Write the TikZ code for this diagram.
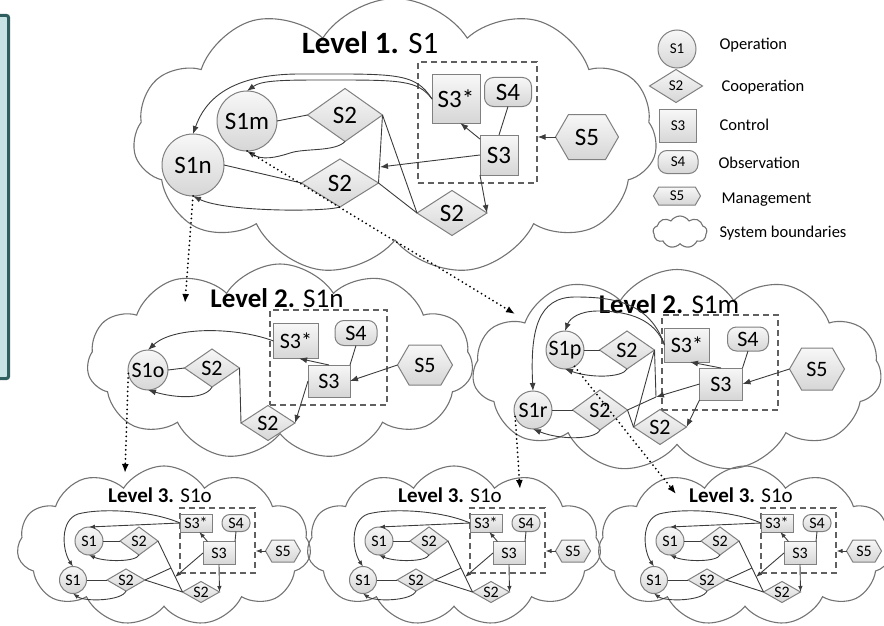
\documentclass[tikz,border=0pt]{standalone}
\usepackage{fontspec}
\setmainfont{Carlito}
\usetikzlibrary{shapes.geometric,shapes.symbols,shapes.misc,arrows.meta,calc}

\definecolor{nodeln}{RGB}{128,128,128}
\definecolor{connc}{RGB}{60,60,60}
\definecolor{cloudln}{RGB}{115,115,115}
\definecolor{panelfill}{RGB}{200,227,227}
\definecolor{panelln}{RGB}{47,94,94}

\newcommand{\fsz}[1]{\fontsize{#1}{#1}\selectfont}

\tikzset{
 base/.style={draw=nodeln, line width=1pt, top color=white!97!black, bottom color=white!84!black, inner sep=0pt, outer sep=0pt, text=black},
 opn/.style={base, circle},
 coop/.style={base, diamond, shape aspect=1.6},
 ctrl/.style={base, rectangle},
 obs/.style={base, rectangle, rounded corners=#1},
 mgmt/.style={base, signal, signal to=east and west, signal pointer angle=120},
 dashbox/.style={draw=gray!75!black, dash pattern=on 6pt off 4pt, line width=1.2pt, inner sep=0pt, fill=none},
 cloudy/.style={draw=cloudln, line width=1.1pt, cloud, cloud puffs=11, cloud puff arc=115, inner sep=0pt, aspect=2},
 conn/.style={draw=connc, line width=0.9pt},
 arr/.style={conn, -{Latex[length=8pt,width=6pt]}},
 arrs/.style={conn, -{Latex[length=6pt,width=4.5pt]}},
 dotarr/.style={draw=black, line width=2pt, dash pattern=on 0pt off 4.5pt, line cap=round, -{Latex[length=9pt,width=7pt]}},
 Lone/.style={font=\fsz{25}},
 Ltwo/.style={font=\fsz{22}},
 Lthree/.style={font=\fsz{16}},
}

\begin{document}
\begin{tikzpicture}[x=1pt,y=-1pt]
\useasboundingbox (0,0) rectangle (884,626);
\clip (0,0) rectangle (884,626);

% side panel
\draw[line width=3pt, draw=panelln, fill=panelfill, rounded corners=2pt] (-20,15.5) rectangle (8.5,378.5);

% ---------------- Level 1 ----------------
\node[cloudy, minimum width=524pt, minimum height=277pt] (C1) at (395,137) {};
\node[font=\fsz{31}] (T1) at (370,43) {\textbf{Level 1.} S1};
\node[opn, Lone, minimum size=60pt] (S1m) at (247,121) {S1m};
\node[opn, Lone, minimum size=62pt] (S1n) at (193,165) {S1n};
\node[coop, Lone, minimum width=75pt, minimum height=53pt] (A2a) at (345,115) {S2};
\node[coop, Lone, minimum width=77pt, minimum height=48pt] (A2b) at (340,183) {S2};
\node[coop, Lone, minimum width=70pt, minimum height=45pt] (A2c) at (452,213) {S2};
\node[dashbox, minimum width=119pt, minimum height=121pt] (AD) at (477.5,122.5) {};
\node[ctrl, Lone, minimum width=48pt, minimum height=48pt] (A3s) at (456,99) {S3*};
\node[obs=9pt, Lone, minimum width=47pt, minimum height=29pt] (A4) at (508,92) {S4};
\node[ctrl, Lone, minimum width=38pt, minimum height=40pt] (A3) at (499,155) {S3};
\node[mgmt, Lone, minimum width=63pt, minimum height=45pt] (A5) at (587,137) {S5};
\coordinate (Aco) at (380,167);

\draw[conn] (S1m.east) -- (A2a.west);
\draw[arr] (A2a.south) .. controls (335,152) and (305,148) .. (290,153) .. controls (275,158) and (262,160) .. (S1m.south);
\draw[arr] (A3s.west) .. controls (418,80) and (400,80) .. (330,80) .. controls (285,80) and (262,80) .. (S1m.north);
\draw[arr] (A3s.west) .. controls (415,72) and (395,74) .. (300,74) .. controls (230,74) and (205,100) .. (S1n.north);
\draw[conn] (S1n.east) -- (A2b.west);
\draw[arr] (A2b.south) .. controls (325,212) and (225,212) .. (S1n.south);
\draw[conn] (A2a.east) -- (A2b.east);
\draw[conn] (A2a.east) -- (A2c.west);
\draw[conn] (A2b.east) -- (A2c.west);
\draw[arr] (A3.west) -- (Aco);
\draw[arr] (A3.140) -- (A3s.-80);
\draw[conn] (A4.south) -- (A3.north);
\draw[arr] (A3.south west) -- (A2c.east);
\draw[arr] (A5.west) -- (A5.west -| AD.east);

% ---------------- Level 2 left ----------------
\node[cloudy, minimum width=386pt, minimum height=196pt] (C2) at (280,362) {};
\node[font=\fsz{27}] (T2a) at (277,298) {\textbf{Level 2.} S1n};
\node[opn, Ltwo, minimum size=40pt] (S1o) at (148,370) {S1o};
\node[coop, Ltwo, minimum width=55pt, minimum height=38pt] (B2a) at (212,368) {S2};
\node[coop, Ltwo, minimum width=54pt, minimum height=35pt] (B2b) at (268,423) {S2};
\node[dashbox, minimum width=117pt, minimum height=95pt] (BD) at (328.5,357.5) {};
\node[ctrl, Ltwo, minimum width=45pt, minimum height=35pt] (B3s) at (296,341) {S3*};
\node[obs=9pt, Ltwo, minimum width=42pt, minimum height=25pt] (B4) at (356,333) {S4};
\node[ctrl, Ltwo, minimum width=42pt, minimum height=32pt] (B3) at (329,381) {S3};
\node[mgmt, Ltwo, minimum width=55pt, minimum height=40pt] (B5) at (425,365) {S5};

\draw[arr] (B3s.west) .. controls (240,328) and (175,325) .. (S1o.north);
\draw[conn] (S1o.east) -- (B2a.west);
\draw[arr] (B2a.south) .. controls (205,400) and (175,398) .. (S1o.south);
\draw[conn] (B2a.east) -- (B2b.west);
\draw[arr] (B3.north) -- (B3s.-80);
\draw[conn] (B4.south) -- (B3.north east);
\draw[arr] (B3.west) -- (B2b.east);
\draw[arr] (B5.west) -- (B3.east);

% ---------------- Level 2 right ----------------
\node[cloudy, minimum width=409pt, minimum height=203pt] (C3) at (677,371) {};
\node[font=\fsz{27}] (T2b) at (669,304) {\textbf{Level 2.} S1m};
\node[opn, Ltwo, minimum size=38pt] (S1p) at (565,350) {S1p};
\node[coop, Ltwo, minimum width=55pt, minimum height=38pt] (C2a) at (627,350) {S2};
\node[opn, Ltwo, minimum size=38pt] (S1r) at (533,410) {S1r};
\node[coop, Ltwo, minimum width=55pt, minimum height=40pt] (C2b) at (600,410) {S2};
\node[coop, Ltwo, minimum width=53pt, minimum height=35pt] (C2c) at (660,427) {S2};
\node[dashbox, minimum width=116pt, minimum height=95pt] (CD) at (720,362.5) {};
\node[ctrl, Ltwo, minimum width=45pt, minimum height=34pt] (C3s) at (687,345) {S3*};
\node[obs=9pt, Ltwo, minimum width=41pt, minimum height=24pt] (C4) at (748,339) {S4};
\node[ctrl, Ltwo, minimum width=43pt, minimum height=32pt] (C3x) at (721,384) {S3};
\node[mgmt, Ltwo, minimum width=55pt, minimum height=42pt] (C5) at (817,369) {S5};
\coordinate (Cco) at (656,397);

\draw[conn] (S1p.east) -- (C2a.west);
\draw[arr] (C2a.south) .. controls (622,378) and (590,378) .. (S1p.south);
\draw[arr] (C3s.west) .. controls (655,320) and (630,311) .. (598,311) .. controls (580,311) and (570,318) .. (S1p.north);
\draw[arr] (C3s.west) .. controls (650,303) and (615,297) .. (575,297) .. controls (538,297) and (530,330) .. (S1r.north);
\draw[conn] (S1r.east) -- (C2b.west);
\draw[arr] (C2b.south) .. controls (595,440) and (560,440) .. (S1r.south);
\draw[conn] (C2a.east) -- (Cco);
\draw[conn] (C2a.east) -- (C2c.west);
\draw[conn] (C2b.east) -- (C2c.west);
\draw[conn] (C2b.east) -- (Cco);
\draw[arr] (C3x.west) -- (Cco);
\draw[arr] (C3x.north) -- (C3s.-80);
\draw[conn] (C4.south) -- (C3x.north east);
\draw[arr] (C3x.south west) -- (C2c.east);
\draw[arr] (C5.west) -- (C3x.east);

% ---------------- Level 3 (three copies) ----------------
\foreach \dx/\q in {0/a,290/b,581/c} {
\begin{scope}[shift={(\dx,0)}]
\node[cloudy, minimum width=294pt, minimum height=160pt] (Cl\q) at (164,546) {};
\node[font=\fsz{21}] (T3\q) at (160,495) {\textbf{Level 3.} S1o};
\node[opn, Lthree, minimum size=28pt] (U\q) at (89,541) {S1};
\node[coop, Lthree, minimum width=38pt, minimum height=28pt] (V\q) at (139,541) {S2};
\node[opn, Lthree, minimum size=27pt] (W\q) at (73,580) {S1};
\node[coop, Lthree, minimum width=38pt, minimum height=22pt] (X\q) at (126,580) {S2};
\node[coop, Lthree, minimum width=37pt, minimum height=21pt] (Y\q) at (201,592) {S2};
\node[dashbox, minimum width=75pt, minimum height=65pt] (D\q) at (217.5,540.5) {};
\node[ctrl, Lthree, minimum width=32pt, minimum height=18pt] (Q\q) at (196,523) {S3*};
\node[obs=8pt, Lthree, minimum width=28pt, minimum height=17pt] (R\q) at (236,523) {S4};
\node[ctrl, Lthree, minimum width=32pt, minimum height=23pt] (K\q) at (219,553) {S3};
\node[mgmt, Lthree, minimum width=35pt, minimum height=22pt] (M\q) at (283,551) {S5};
\coordinate (P\q) at (175,577);
\coordinate (Z\q) at (171,568);
\draw[arrs] (Q\q.west) -- (U\q.north);
\draw[arrs] (Q\q.west) .. controls (150,510) and (100,508) .. (78,514) .. controls (60,520) and (62,550) .. (W\q.north);
\draw[conn] (U\q.east) -- (V\q.west);
\draw[arrs] (V\q.south) .. controls (136,562) and (105,562) .. (U\q.south);
\draw[conn] (W\q.east) -- (X\q.west);
\draw[arrs] (X\q.south) .. controls (122,601) and (85,602) .. (W\q.south);
\draw[conn] (V\q.east) -- (Y\q.west);
\draw[conn] (X\q.east) -- (Z\q);
\draw[conn] (X\q.east) -- (Y\q.west);
\draw[arrs] (K\q.west) -- (P\q);
\draw[arrs] (K\q.135) -- (Q\q.-70);
\draw[conn] (R\q.south) -- (K\q.north east);
\draw[arrs] (K\q.south) -- (Y\q.east);
\draw[arrs] (M\q.west) -- (M\q.west -| D\q.east);
\end{scope}
}

% ---------------- dotted level links ----------------
\coordinate (e1) at (185,303);
\coordinate (e2) at (515,314);
\coordinate (e3) at (125,473);
\coordinate (e4) at (520,489);
\coordinate (e5) at (676,494);
\draw[dotarr] (S1n.south) -- (e1);
\draw[dotarr] (S1m.south) -- (e2);
\draw[dotarr] (S1o.190) -- (e3);
\draw[dotarr] (S1r.200) -- (e4);
\draw[dotarr] (S1p.-60) -- (e5);

% ---------------- legend ----------------
\node[opn, font=\fsz{15}, minimum size=38pt] (G1) at (677,49) {S1};
\node[coop, font=\fsz{15}, minimum width=53pt, minimum height=33pt] (G2) at (676,86) {S2};
\node[ctrl, font=\fsz{15}, minimum width=37pt, minimum height=33pt] (G3) at (678,126) {S3};
\node[obs=9pt, font=\fsz{15}, minimum width=40pt, minimum height=23pt] (G4) at (678,162) {S4};
\node[mgmt, font=\fsz{15}, minimum width=47pt, minimum height=18pt] (G5) at (677,196) {S5};
\node[cloudy, cloud puffs=9, minimum width=54pt, minimum height=32pt] (G6) at (680,232) {};
\node[anchor=west, font=\fsz{16.5}] (H1) at (716,45) {Operation};
\node[anchor=west, font=\fsz{16.5}] (H2) at (718,87) {Cooperation};
\node[anchor=west, font=\fsz{16.5}] (H3) at (716,125) {Control};
\node[anchor=west, font=\fsz{16.5}] (H4) at (715,163) {Observation};
\node[anchor=west, font=\fsz{16.5}] (H5) at (718,200) {Management};
\node[anchor=west, font=\fsz{16.5}] (H6) at (716,233) {System boundaries};
\end{tikzpicture}
\end{document}
